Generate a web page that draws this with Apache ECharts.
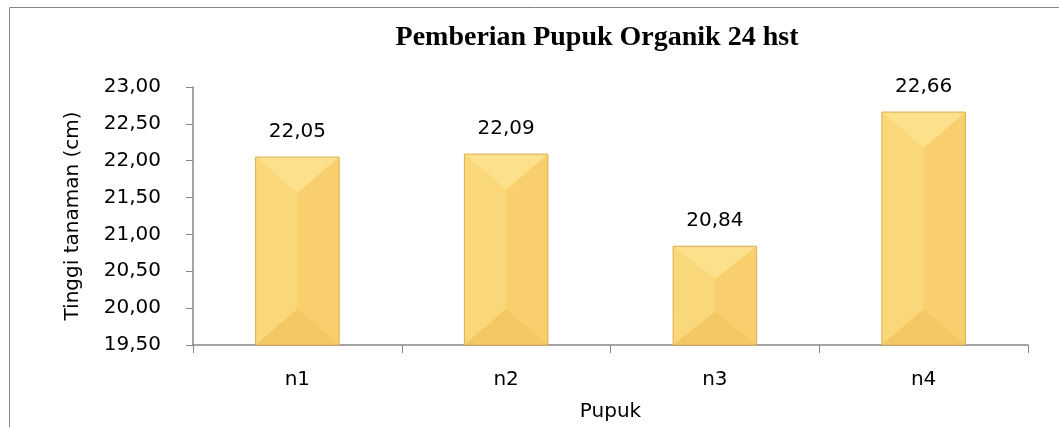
<!DOCTYPE html>
<html>
<head>
<meta charset="utf-8">
<script src="https://cdn.jsdelivr.net/npm/echarts@6/dist/echarts.min.js"></script>
<style>
  html, body { margin: 0; padding: 0; background: #fff; }
  #chart { width: 1059px; height: 427px; }
</style>
</head>
<body>
<div id="chart"></div>
<script>
const categories = ['n1', 'n2', 'n3', 'n4'];
const heights = [22.05, 22.09, 20.84, 22.66];
const yTicks = { min: 19.5, max: 23, interval: 0.5 };

const fmt = v => v.toFixed(2).replace('.', ',');
const labelFont = '"DejaVu Sans", sans-serif';

const chart = echarts.init(document.getElementById('chart'));

// bevel faces drawn over each bar, positions taken from the axes
function renderBevel(params, api) {
  const i = api.value(0);
  const v = api.value(1);
  const w = api.size([1, 0])[0] * 0.4;
  const top = api.coord([i, v]);
  const base = api.coord([i, yTicks.min]);
  const xc = top[0];
  const x0 = xc - w / 2, x1 = xc + w / 2;
  const y0 = top[1], y1 = base[1];
  const dv = Math.min(36, (y1 - y0) / 3);
  const face = (pts, fill) => ({ type: 'polygon', shape: { points: pts }, style: { fill: fill } });
  return {
    type: 'group',
    children: [
      face([[x0, y0], [xc, y0 + dv], [xc, y1 - dv], [x0, y1]], '#FAD778'),
      face([[x1, y0], [x1, y1], [xc, y1 - dv], [xc, y0 + dv]], '#F8CF6C'),
      face([[x0, y0], [x1, y0], [xc, y0 + dv]], '#FCE08C'),
      face([[x0, y1], [x1, y1], [xc, y1 - dv]], '#F3C764'),
      { type: 'rect', shape: { x: x0, y: y0, width: w, height: y1 - y0 },
        style: { fill: 'none', stroke: '#DDAE50', lineWidth: 1 } }
    ]
  };
}

chart.setOption({
  animation: false,
  title: {
    text: 'Pemberian Pupuk Organik 24 hst',
    left: 592, top: 19, textAlign: 'center',
    textStyle: { fontFamily: '"Liberation Serif", serif', fontWeight: 'bold', fontSize: 28, color: '#000' }
  },
  graphic: [{
    type: 'rect', shape: { x: 9.5, y: 7.5, width: 1060, height: 430 },
    style: { fill: 'none', stroke: '#868686', lineWidth: 1 }, silent: true
  }],
  grid: { left: 193, right: 31, top: 87, bottom: 82 },
  xAxis: {
    type: 'category',
    data: categories,
    name: 'Pupuk',
    nameLocation: 'middle',
    nameGap: 57,
    nameTextStyle: { fontFamily: labelFont, fontSize: 20, color: '#000' },
    axisLine: { lineStyle: { color: '#868686', width: 1.5 } },
    axisTick: { show: true, length: 8, lineStyle: { color: '#868686' } },
    axisLabel: { fontFamily: labelFont, fontSize: 20, color: '#000', margin: 25 }
  },
  yAxis: {
    type: 'value',
    min: yTicks.min, max: yTicks.max, interval: yTicks.interval,
    name: 'Tinggi tanaman (cm)',
    nameLocation: 'middle',
    nameGap: 110,
    nameTextStyle: { fontFamily: labelFont, fontSize: 20, color: '#000' },
    axisLine: { show: true, lineStyle: { color: '#868686', width: 1.5 } },
    axisTick: { show: true, length: 7, lineStyle: { color: '#868686' } },
    splitLine: { show: false },
    axisLabel: { fontFamily: labelFont, fontSize: 20, color: '#000', margin: 32, formatter: fmt }
  },
  series: [
    {
      type: 'bar',
      data: heights,
      barWidth: '40%',
      itemStyle: { color: '#F9D473' },
      label: {
        show: true, position: 'top', distance: 15,
        fontFamily: labelFont, fontSize: 20, color: '#000',
        formatter: p => fmt(p.value)
      }
    },
    {
      type: 'custom',
      data: heights.map((h, i) => [i, h]),
      renderItem: renderBevel,
      z: 3,
      silent: true
    }
  ]
});
</script>
</body>
</html>
